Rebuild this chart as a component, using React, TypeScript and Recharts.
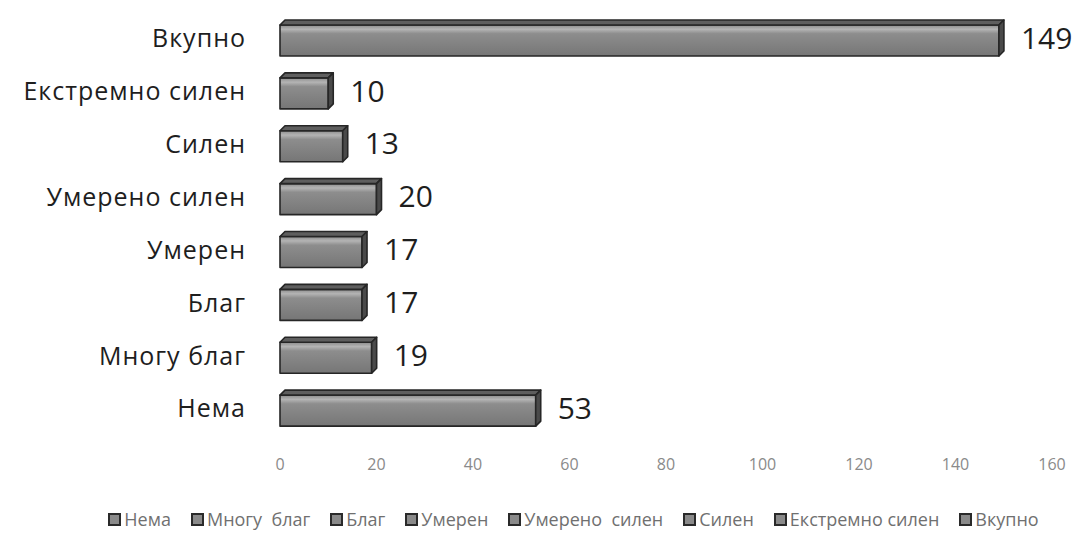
import React from "react";
import { BarChart, Bar, XAxis, YAxis, LabelList } from "recharts";

const categories = ["Нема", "Многу  благ", "Благ", "Умерен", "Умерено  силен", "Силен", "Екстремно силен", "Вкупно"];
const counts = [53, 19, 17, 17, 20, 13, 10, 149];
const xTicks = [0, 20, 40, 60, 80, 100, 120, 140, 160];

const data = categories.map((name, i) => ({ name, value: counts[i] }));

const FONT = "'Open Sans', sans-serif";
const DEPTH = 5;

function Bar3D(props: any) {
  const { x, y, width, height } = props;
  if (width <= 0) return null;
  const d = DEPTH;
  const top = y + d;
  const bottom = y + height;
  const right = x + width;
  return (
    <g stroke="#262626" strokeWidth={1.6} strokeLinejoin="round">
      <rect x={x} y={top} width={width} height={bottom - top} fill="url(#gFront)" />
      <polygon points={`${x},${top} ${x + d},${y} ${right + d},${y} ${right},${top}`} fill="#5e5e5e" />
      <polygon points={`${right},${top} ${right + d},${y} ${right + d},${bottom - d} ${right},${bottom}`} fill="#4a4a4a" />
    </g>
  );
}

function LegendRow() {
  return (
    <div
      style={{
        position: "absolute",
        top: 507,
        left: 60,
        width: 1027,
        display: "flex",
        justifyContent: "center",
        gap: 20,
        fontFamily: FONT,
        fontSize: 18,
        color: "#707070",
      }}
    >
      {categories.map((c) => (
        <span key={c} style={{ display: "flex", alignItems: "center", whiteSpace: "pre" }}>
          <span style={{ width: 9, height: 9, background: "#8a8a8a", border: "2px solid #2a2a2a", marginRight: 3 }} />
          {c}
        </span>
      ))}
    </div>
  );
}

export default function App() {
  return (
    <div style={{ position: "absolute", left: 0, top: 0, width: 1087, height: 540, background: "#fff" }}>
      <BarChart
        width={1087}
        height={540}
        data={data}
        layout="vertical"
        margin={{ top: 12, right: 35, left: 0, bottom: 65 }}
        barCategoryGap={0}
      >
        <defs>
          <linearGradient id="gFront" x1="0" y1="0" x2="0" y2="1">
            <stop offset="0%" stopColor="#8c8c8c" />
            <stop offset="14%" stopColor="#b4b4b4" />
            <stop offset="28%" stopColor="#8d8d8d" />
            <stop offset="100%" stopColor="#767676" />
          </linearGradient>
        </defs>
        <XAxis
          type="number"
          domain={[0, 160]}
          ticks={xTicks}
          axisLine={false}
          tickLine={false}
          height={40}
          tickMargin={18}
          tick={{ fill: "#8a8a8a", fontSize: 16, fontFamily: FONT }}
        />
        <YAxis
          type="category"
          dataKey="name"
          reversed
          width={280}
          axisLine={false}
          tickLine={false}
          tickMargin={28}
          tick={{ fill: "#1e1e1e", fontSize: 25, fontFamily: FONT, letterSpacing: 1 }}
        />
        <Bar dataKey="value" barSize={36} shape={<Bar3D />} isAnimationActive={false}>
          <LabelList dataKey="value" position="right" offset={22} style={{ fill: "#1e1e1e", fontSize: 30, fontFamily: FONT }} />
        </Bar>
      </BarChart>
      <LegendRow />
    </div>
  );
}
